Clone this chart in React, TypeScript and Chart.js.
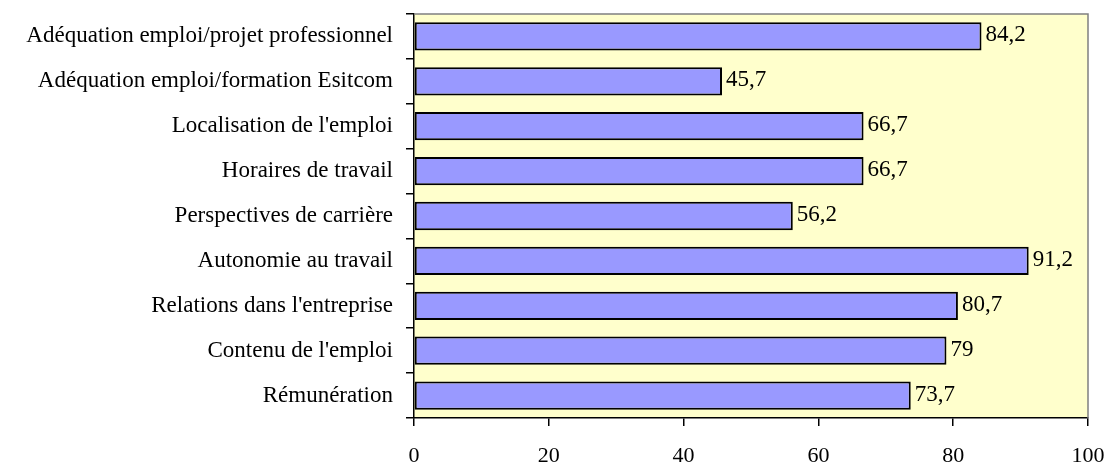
import React, { useEffect, useRef } from "react";
import { Chart, registerables } from "chart.js";

Chart.register(...registerables);

const categories = [
  "Adéquation emploi/projet professionnel",
  "Adéquation emploi/formation Esitcom",
  "Localisation de l'emploi",
  "Horaires de travail",
  "Perspectives de carrière",
  "Autonomie au travail",
  "Relations dans l'entreprise",
  "Contenu de l'emploi",
  "Rémunération",
];
const values = [84.2, 45.7, 66.7, 66.7, 56.2, 91.2, 80.7, 79, 73.7];
const xTicks = [0, 20, 40, 60, 80, 100];

const FONT = "'Liberation Serif', 'Times New Roman', serif";

const bgPlugin = {
  id: "bgPlugin",
  beforeDraw(chart: any) {
    const { ctx, chartArea } = chart;
    ctx.save();
    ctx.fillStyle = "#FFFFCC";
    ctx.fillRect(chartArea.left, chartArea.top, chartArea.right - chartArea.left, chartArea.bottom - chartArea.top);
    ctx.restore();
  },
  afterDatasetsDraw(chart: any) {
    const { ctx, chartArea } = chart;
    ctx.save();
    ctx.strokeStyle = "#808080";
    ctx.lineWidth = 1.5;
    ctx.beginPath();
    ctx.moveTo(chartArea.left, chartArea.top);
    ctx.lineTo(chartArea.right, chartArea.top);
    ctx.lineTo(chartArea.right, chartArea.bottom);
    ctx.stroke();
    ctx.restore();
  },
};

const valueLabels = {
  id: "valueLabels",
  afterDatasetsDraw(chart: any) {
    const { ctx } = chart;
    const meta = chart.getDatasetMeta(0);
    ctx.save();
    ctx.fillStyle = "#000";
    ctx.font = `23px ${FONT}`;
    ctx.textAlign = "left";
    ctx.textBaseline = "middle";
    meta.data.forEach((bar: any, i: number) => {
      const txt = String(values[i]).replace(".", ",");
      ctx.fillText(txt, bar.x + 4, bar.y - 1);
    });
    ctx.restore();
  },
};

export default function App() {
  const ref = useRef<HTMLCanvasElement>(null);
  useEffect(() => {
    document.body.style.margin = "0";
    const chart = new Chart(ref.current!, {
      type: "bar",
      data: {
        labels: categories,
        datasets: [
          {
            data: values,
            backgroundColor: "#9999FF",
            borderColor: "#000000",
            borderWidth: 2,
            borderSkipped: false,
            categoryPercentage: 0.63,
            barPercentage: 1,
          },
        ],
      },
      options: {
        indexAxis: "y",
        animation: false,
        responsive: false,
        layout: { padding: { top: 14, right: 19, left: 0, bottom: 0 } },
        plugins: { legend: { display: false }, tooltip: { enabled: false } },
        scales: {
          x: {
            min: 0,
            max: 100,
            afterBuildTicks: (scale: any) => {
              scale.ticks = xTicks.map((v) => ({ value: v }));
            },
            afterFit: (scale: any) => {
              scale.height = 45;
              scale.paddingLeft = 0;
              scale.paddingRight = 0;
            },
            grid: {
              drawOnChartArea: false,
              drawTicks: true,
              tickLength: 8,
              color: "#000",
              lineWidth: 1.5,
            },
            border: { display: true, color: "#000", width: 1.5 },
            ticks: {
              color: "#000",
              font: { family: FONT, size: 22 },
              padding: 17,
              maxRotation: 0,
            },
          },
          y: {
            afterFit: (scale: any) => {
              scale.width = 414;
              scale.paddingTop = 0;
              scale.paddingBottom = 0;
            },
            grid: {
              drawOnChartArea: false,
              drawTicks: true,
              tickLength: 8,
              offset: true,
              color: "#000",
              lineWidth: 1.5,
            },
            border: { display: true, color: "#000", width: 1.5 },
            ticks: {
              color: "#000",
              font: { family: FONT, size: 23 },
              padding: 13,
            },
          },
        },
      },
      plugins: [bgPlugin, valueLabels],
    });
    return () => chart.destroy();
  }, []);
  return <canvas ref={ref} width={1107} height={463} style={{ display: "block" }} />;
}
